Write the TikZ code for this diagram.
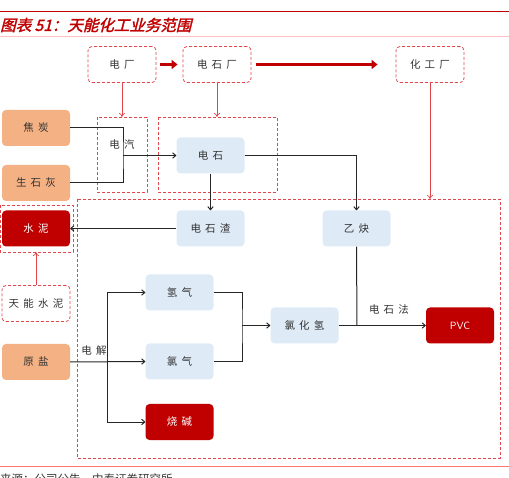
\documentclass[tikz,border=0pt]{standalone}
\usepackage{fontspec}
\usetikzlibrary{arrows.meta}
\newfontfamily\cjk[LetterSpace=40]{Noto Sans CJK SC}
\newfontfamily\cjkplain{Noto Sans CJK SC}
\newfontfamily\cjktitle[FakeSlant=0.25,FakeBold=2]{Noto Sans CJK SC}
\definecolor{darkred}{HTML}{C00000}
\definecolor{dashred}{HTML}{E0474C}
\definecolor{salmon}{HTML}{F4B183}
\definecolor{paleblue}{HTML}{DEEBF7}
\definecolor{textgray}{HTML}{333333}
\begin{document}
\begin{tikzpicture}[x=1pt, y=-1pt,
  every node/.style={font=\cjk\fontsize{10.5}{12}\selectfont, text=textgray},
  box/.style={rounded corners=4pt, minimum width=68pt, minimum height=36pt, inner sep=0pt},
  rawbox/.style={box, fill=salmon},
  midbox/.style={box, fill=paleblue},
  endbox/.style={box, fill=darkred, text=white},
  plantbox/.style={box, draw=dashred, dash pattern=on 3pt off 2pt, line width=0.8pt},
  zone/.style={draw=dashred, dash pattern=on 3pt off 2pt, line width=0.8pt},
  flow/.style={draw=black!85, line width=1pt, -{To[length=4pt,width=6pt]}},
  link/.style={draw=black!85, line width=1pt},
  feed/.style={draw=dashred, line width=0.7pt, -{To[length=4pt,width=6pt]}},
  bigarrow/.style={draw=darkred, line width=3pt, -{Triangle[length=6pt,width=9pt]}}
]
  \useasboundingbox (0,0) rectangle (509,478);

  % header
  \draw[darkred, line width=1.5pt] (0,11.5) -- (509,11.5);
  \node[anchor=west, inner sep=0pt, text=darkred, font=\cjktitle\fontsize{15.5}{18}\selectfont] (title) at (0,25) {图表 51：天能化工业务范围};
  \draw[red!25, line width=1pt] (0,37) -- (509,37);

  % plants
  \node[plantbox] (dc) at (122,64.5) {电厂};
  \node[plantbox] (dsc) at (217,64.5) {电石厂};
  \node[plantbox] (hgc) at (430,64.5) {化工厂};
  \draw[bigarrow] ([xshift=4pt]dc.east) -- ([xshift=-5pt]dsc.west);
  \draw[bigarrow] ([xshift=5pt]dsc.east) -- ([xshift=-18pt]hgc.west);

  % zones
  \draw[zone] (97,117) rectangle (147,192);
  \coordinate (zq) at (122,117);
  \node (dq) at (122,145) {电汽};
  \draw[zone] (158,117) rectangle (277,192);
  \coordinate (zds) at (217,117);
  \draw[zone] (0,205) rectangle (73,252);
  \coordinate (zsn) at (36,252);
  \draw[zone] (77,199) rectangle (500,458);
  \coordinate (zhg) at (430,199);

  % nodes
  \node[rawbox] (jt) at (36,128) {焦炭};
  \node[rawbox] (sh) at (36,183) {生石灰};
  \node[rawbox] (yy) at (36,362) {原盐};
  \node[endbox] (sn) at (36,228.5) {水泥};
  \node[plantbox] (tn) at (36,303.5) {天能水泥};
  \node[midbox] (ds) at (210.5,155.5) {电石};
  \node[midbox] (dz) at (210.5,228.5) {电石渣};
  \node[midbox] (yq) at (356.5,228.5) {乙炔};
  \node[midbox] (qq) at (179.5,292.5) {氢气};
  \node[midbox] (lq) at (179.5,361.5) {氯气};
  \node[endbox] (sj) at (179.5,422) {烧碱};
  \node[midbox] (lh) at (304.5,325.5) {氯化氢};
  \node[endbox, font=\sffamily\fontsize{10.5}{12}\selectfont] (pvc) at (460,325.5) {PVC};

  % feeds from plants
  \draw[feed] (dc.south) -- (zq);
  \draw[feed] (dsc.south) -- (zds);
  \draw[feed] (hgc.south) -- (zhg);
  \draw[feed] (tn.north) -- (zsn);

  % junctions
  \coordinate (ja) at (123,155.5);
  \coordinate (jb) at (357,325.5);
  \coordinate (jc) at (242,325.5);
  \coordinate (jd) at (107,361.5);

  % carbide line
  \draw[link] (jt.east) -| (ja) |- (sh.east);
  \draw[flow] (ja) -- (ds.west);
  \draw[flow] (ds.east) -| (yq.north);
  \draw[flow] (ds.south) -- (dz.north);
  \draw[flow] (dz.west) -- (sn.east);

  % chlor-alkali line
  \draw[flow] (yy.east) -- (lq.west);
  \node (dj) at (94,351) {电解};
  \draw[flow] (jd) |- (qq.west);
  \draw[flow] (jd) |- (sj.west);
  \draw[link] (qq.east) -| (jc) |- (lq.east);
  \draw[flow] (jc) -- (lh.west);
  \draw[flow] (lh.east) -- (pvc.west);
  \draw[link] (yq.south) -- (jb);
  \node (dsf) at (389,310) {电石法};

  % footer
  \draw[red!55, line width=1pt] (0,466) -- (509,466);
  \node[anchor=west, inner sep=0pt, font=\cjkplain\fontsize{11.5}{13}\selectfont] (src) at (0,479) {来源：公司公告，中泰证券研究所};
\end{tikzpicture}
\end{document}
